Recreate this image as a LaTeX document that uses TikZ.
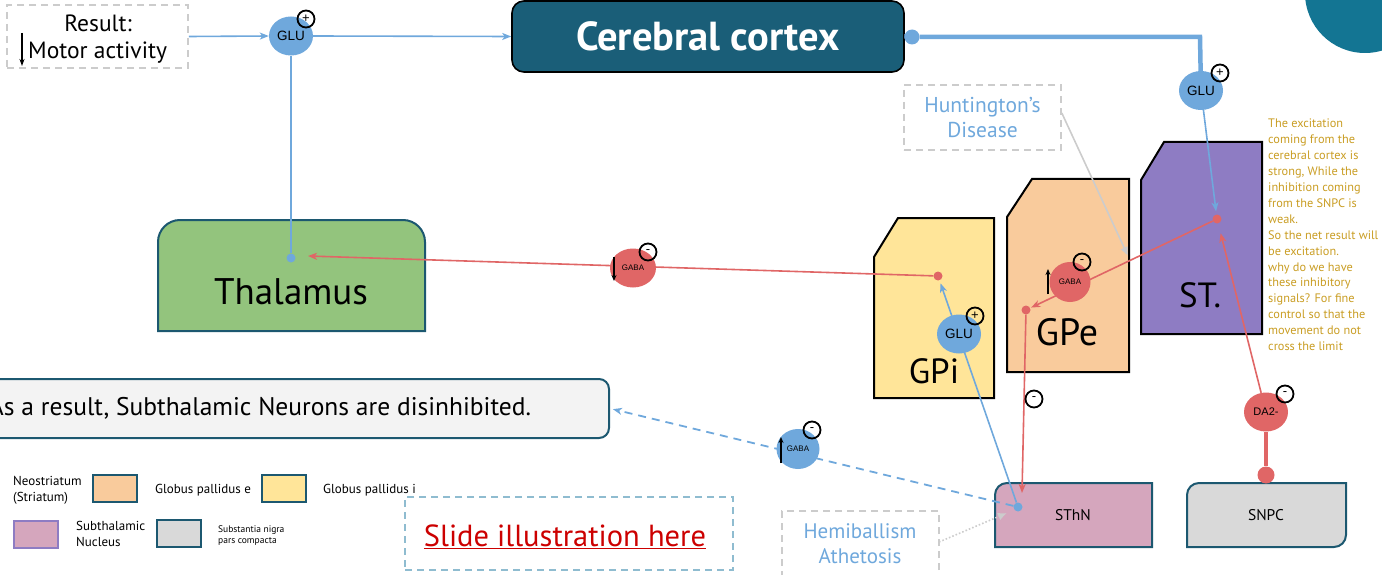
\documentclass[tikz,border=0pt]{standalone}
\usepackage{fontspec}
\setmainfont{PT Sans}
\newfontfamily\arialf{Liberation Sans}
\usetikzlibrary{shapes.geometric,arrows.meta}
\pgfdeclarelayer{back}
\pgfdeclarelayer{front}
\pgfsetlayers{back,main,front}

\definecolor{glublue}{HTML}{6FA8DC}
\definecolor{gabared}{HTML}{E06666}
\definecolor{edgeteal}{RGB}{28,88,112}
\definecolor{ctxfill}{RGB}{26,94,120}
\definecolor{cornerteal}{RGB}{19,117,147}
\definecolor{dashgray}{HTML}{CCCCCC}
\definecolor{thfill}{HTML}{93C47D}
\definecolor{gpifill}{HTML}{FFE599}
\definecolor{gpefill}{HTML}{F9CB9C}
\definecolor{stfill}{HTML}{8E7CC3}
\definecolor{sthfill}{HTML}{D5A6BD}
\definecolor{snpcfill}{HTML}{D9D9D9}
\definecolor{notegold}{RGB}{201,157,35}
\definecolor{slidered}{HTML}{CC0000}
\definecolor{slideblue}{HTML}{8FBCD0}
\definecolor{boxgray}{HTML}{F3F3F3}

\newcommand{\fsz}[1]{\fontsize{#1}{1.2\dimexpr #1pt\relax}\selectfont}

\begin{document}
\begin{tikzpicture}[x=1pt,y=-1pt,
  bl/.style={draw=glublue, line width=1.6},
  rd/.style={draw=gabared, line width=1.6},
  arr/.style={-{Stealth[length=9pt,width=7pt,inset=2.5pt]}},
  garr/.style={-{Latex[length=9pt,width=8pt]}},
  chem/.style={ellipse, inner sep=0, minimum width=44, minimum height=39},
  sgn/.style={circle, draw=black, line width=1.8, minimum size=17, inner sep=0, font=\arialf\fsz{13}},
  pdot/.style={circle, inner sep=0, minimum size=9},
  region/.style={draw=black, line width=2},
  legbox/.style={draw=edgeteal, line width=2, minimum width=44, minimum height=27, inner sep=0},
  legtxt/.style={anchor=base west, align=left, inner sep=0, font=\fontsize{13}{15.5}\selectfont},
  dashbox/.style={draw=dashgray, dashed, dash pattern=on 7pt off 5pt, line width=1.6, inner sep=0},
  bigtxt/.style={anchor=base, font=\fsz{35}},
]
\useasboundingbox (0,0) rectangle (1382,575);
\clip (0,0) rectangle (1382,575);

% decorative corner disc
\fill[cornerteal] (1365,-7) circle (60);

% ---------- brain regions ----------
\begin{pgfonlayer}{back}
  \draw[draw=edgeteal, line width=2, fill=thfill]
    (158,331) -- (158,242) arc[start angle=180,end angle=270,radius=22]
    -- (403,220) arc[start angle=270,end angle=360,radius=22] -- (425,331) -- cycle;
  \draw[region, fill=gpifill] (874,398) -- (874,257) -- (898,218) -- (994,218) -- (994,398) -- cycle;
  \draw[region, fill=gpefill] (1007,372) -- (1007,217) -- (1032,179) -- (1129,179) -- (1129,372) -- cycle;
  \draw[region, fill=stfill] (1141,334) -- (1141,180) -- (1164,142) -- (1262,142) -- (1262,334) -- cycle;
  \draw[draw=edgeteal, line width=2, fill=sthfill]
    (995,547) -- (995,495) arc[start angle=180,end angle=270,radius=12] -- (1152,483) -- (1152,547) -- cycle;
  \draw[draw=edgeteal, line width=2, fill=snpcfill]
    (1187,547) -- (1187,495) arc[start angle=180,end angle=270,radius=12] -- (1346,483)
    -- (1346,535) arc[start angle=0,end angle=90,radius=12] -- cycle;
\end{pgfonlayer}

\node[bigtxt, font=\fsz{37}] (thal) at (291,304) {Thalamus};
\node[bigtxt] (gpi) at (934,383) {GPi};
\node[bigtxt, font=\fsz{38}] (gpe) at (1067,345) {GPe};
\node[bigtxt] (st) at (1200,307) {ST.};
\node[font=\fsz{15.5}] (sthn) at (1073,515) {SThN};
\node[font=\fsz{15.5}] (snpc) at (1266,515) {SNPC};

% cortex
\node[draw=black, line width=1.6, fill=ctxfill, rounded corners=12,
      minimum width=392, minimum height=71, inner sep=0,
      text=white, font=\bfseries\fsz{40.5}] (ctx) at (708,36.5) {Cerebral cortex};

% result box
\node[dashbox, minimum width=181, minimum height=63] (res) at (97.5,36.5) {};
\node[anchor=base, font=\fsz{23.5}] (res1) at (98,32) {Result:};
\node[anchor=base west, inner sep=0, font=\fsz{23.5}] (res2) at (28,59) {Motor activity};
\coordinate (rarrA) at (22,33);
\coordinate (rarrB) at (22,66);
\draw[line width=1.3, -{Stealth[length=7pt,width=5pt]}] (rarrA) -- (rarrB);

% summary box
\node[draw=edgeteal, line width=2, fill=boxgray, rounded corners=10,
      minimum width=698, minimum height=59, inner sep=0, font=\fsz{25.5}] (asres) at (260,408.5)
      {As a result, Subthalamic Neurons are disinhibited.};

% annotation boxes
\node[dashbox, minimum width=157, minimum height=65, align=center,
      text=glublue, font=\fontsize{21.5}{25}\selectfont] (hunt) at (982.5,117.5) {Huntington’s\\Disease};
\node[dashbox, minimum width=157, minimum height=70] (hemi) at (860.5,546) {};
\node[anchor=base, text=glublue, font=\fsz{21}] (hemi1) at (860,538) {Hemiballism};
\node[anchor=base, text=glublue, font=\fsz{21}] (hemi2) at (860,563) {Athetosis};

% slide placeholder
\node[draw=slideblue, dashed, dash pattern=on 7pt off 5pt, line width=1.6,
      minimum width=328, minimum height=73, inner sep=0] (slide) at (569,533.5) {};
\node[anchor=base, text=slidered, font=\fsz{30.5}] (slidetxt) at (565,546) {\underline{Slide illustration here}};

% side note
\node[anchor=north west, align=left, text=notegold, inner sep=0,
      font=\fontsize{12.3}{15.9}\selectfont] (note) at (1268,119)
  {The excitation\\coming from the\\cerebral cortex is\\strong, While the\\inhibition coming\\from the SNPC is\\weak.\\So the net result will\\be excitation.\\why do we have\\these inhibitory\\signals? For fine\\control so that the\\movement do not\\cross the limit};

% ---------- legend ----------
\node[legtxt] (lg1) at (13,501) {Neostriatum\\(Striatum)};
\node[legbox, fill=gpefill] (lb1) at (115,488) {};
\node[legtxt] (lg2) at (155,493) {Globus pallidus e};
\node[legbox, fill=gpifill] (lb2) at (284,488) {};
\node[legtxt] (lg3) at (323,493) {Globus pallidus i};
\node[legbox, draw=stfill, fill=sthfill] (lb3) at (36,534.5) {};
\node[legtxt] (lg4) at (76,546) {Subthalamic\\Nucleus};
\node[legbox, fill=snpcfill] (lb4) at (178.5,533.5) {};
\node[legtxt, font=\fontsize{9.5}{10.5}\selectfont] (lg5) at (218,543) {Substantia nigra\\pars compacta};

% ---------- transmitters ----------
\begin{pgfonlayer}{front}
  \node[chem, fill=glublue, font=\arialf\fsz{13.5}] (glu1) at (291,36) {GLU};
  \node[sgn] (s1) at (306,19) {+};
  \node[chem, fill=glublue, font=\arialf\fsz{13.5}] (glu2) at (1201,90.5) {GLU};
  \node[sgn] (s2) at (1220,73) {+};
  \node[chem, fill=gabared, minimum width=46, font=\arialf\fsz{8}] (gaba1) at (633,268) {GABA};
  \node[sgn] (s3) at (648,252) {-};
  \node[chem, fill=gabared, minimum width=41, minimum height=40, font=\arialf\fsz{8}] (gaba2) at (1070,282) {GABA};
  \node[sgn] (s4) at (1082,262) {-};
  \node[chem, fill=glublue, font=\arialf\fsz{13.5}] (glu3) at (959,334) {GLU};
  \node[sgn] (s5) at (975,316) {+};
  \node[chem, fill=glublue, minimum width=43, minimum height=40, font=\arialf\fsz{8}] (gaba3) at (798,449) {GABA};
  \node[sgn] (s6) at (812,430) {-};
  \node[chem, fill=gabared, font=\arialf\fsz{11}] (da2) at (1266,412) {DA2-};
  \node[sgn] (s7) at (1285,394) {-};
  \node[sgn] (s8) at (1034,399) {-};
  % level arrows beside the transmitters
  \coordinate (g1a) at (614,257); \coordinate (g1b) at (614,281);
  \draw[line width=1.4, -{Stealth[length=6pt,width=5pt]}] (g1a) -- (g1b);
  \coordinate (g2a) at (1048,294); \coordinate (g2b) at (1048,269);
  \draw[line width=1.4, -{Stealth[length=6pt,width=5pt]}] (g2a) -- (g2b);
  \coordinate (g3a) at (781,463); \coordinate (g3b) at (781,437);
  \draw[line width=1.4, -{Stealth[length=6pt,width=5pt]}] (g3a) -- (g3b);
\end{pgfonlayer}

% dots
\node[pdot, fill=glublue] (thdot) at (291,258) {};
\node[pdot, fill=gabared] (gpidot) at (938,276) {};
\node[pdot, fill=gabared] (gpedot) at (1026,310) {};
\node[pdot, fill=gabared] (stdot) at (1217,219) {};
\node[pdot, fill=glublue] (sthdot) at (1018,507) {};
\node[pdot, fill=glublue, minimum size=15] (ctxdot) at (912,37) {};
\node[pdot, fill=gabared, minimum size=17] (snpcdot) at (1266,475) {};

\coordinate (thtip) at (308,256);
\coordinate (sthtip) at (1022,493);
\coordinate (stcorner) at (1200,37);
\coordinate (huntend) at (1128,256);
\coordinate (hemiend) at (1007,513);
\coordinate (hemistart) at (939,542);

% ---------- connectors ----------
\draw[bl, arr] (res.east) -- (glu1.west);
\draw[bl, arr] (glu1.east) -- (ctx.west);
\draw[bl] (glu1) -- (thdot);
\draw[draw=glublue, line width=4.5] (ctx.east) -- (ctxdot) -- (stcorner) -- (glu2);
\draw[bl, arr, shorten >=3pt] (glu2) -- (stdot);
\draw[rd, arr] (gpidot) -- (thtip);
\draw[rd, arr, shorten >=1pt] (stdot) -- (gpedot);
\draw[rd, arr] (gpedot) -- (sthtip);
\draw[bl, arr, shorten >=3pt] (sthdot) -- (gpidot);
\draw[bl, dashed, dash pattern=on 8pt off 6pt, line width=1.8, arr, shorten >=3pt] (sthdot) -- (asres.east);
\draw[rd, arr, shorten >=10pt] (da2) -- (stdot);
\draw[draw=gabared, line width=4.5] (da2) -- (snpcdot);
\draw[draw=dashgray, line width=1.6, garr] (hunt.east |- 0,113) -- (huntend);
\draw[draw=dashgray, line width=1.6, dotted, garr] (hemistart) -- (hemiend);

\end{tikzpicture}
\end{document}
